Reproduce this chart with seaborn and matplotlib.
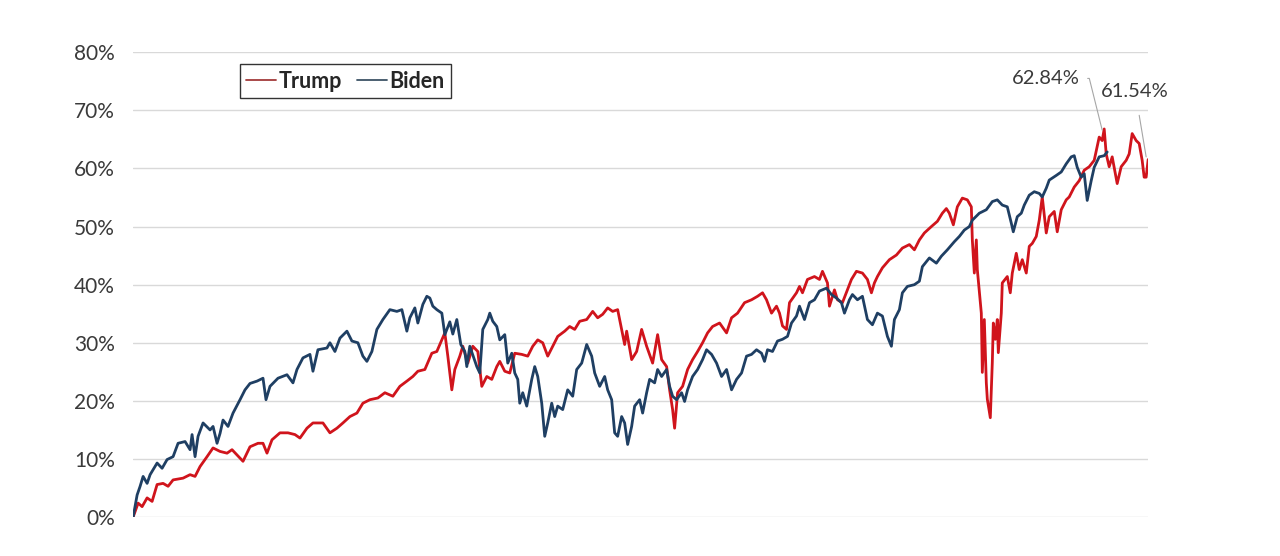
import pandas as pd
import matplotlib.pyplot as plt
import seaborn as sns
from matplotlib.lines import Line2D

# Доходност (%) по търговски дни – Тръмп
trump_day = [0, 5, 9, 14, 19, 24, 30, 35, 40, 50, 57, 62, 67, 74, 80, 87, 94, 99, 104, 110,
             117, 125, 130, 134, 139, 147, 155, 162, 167, 174, 180, 190, 197, 204, 210, 217,
             224, 230, 237, 245, 252, 260, 267, 274, 280, 285, 292, 299, 304, 309, 312, 315,
             319, 322, 327, 330, 335, 340, 345, 349, 354, 359, 364, 367, 372, 377, 382, 389,
             395, 400, 405, 410, 415, 420, 425, 432, 437, 442, 447, 454, 460, 465, 470, 475,
             480, 485, 489, 492, 494, 499, 504, 509, 514, 520, 525, 529, 534, 537, 540, 542,
             545, 550, 555, 560, 565, 570, 575, 580, 587, 594, 599, 605, 612, 619, 625, 630,
             634, 639, 644, 647, 650, 654, 657, 664, 667, 670, 675, 682, 687, 690, 695, 697,
             702, 705, 710, 715, 719, 724, 730, 735, 739, 742, 745, 750, 757, 764, 770, 777,
             782, 787, 792, 799, 805, 810, 814, 817, 821, 825, 830, 835, 839, 840, 842, 844,
             845, 849, 850, 852, 854, 855, 858, 860, 861, 863, 865, 866, 869, 870, 875, 878,
             880, 884, 887, 890, 894, 897, 900, 904, 907, 910, 914, 917, 922, 925, 929, 934,
             937, 942, 947, 952, 957, 962, 967, 970, 972, 974, 977, 980, 985, 989, 994, 997,
             1000, 1004, 1007, 1010, 1012, 1014, 1016]
trump_ret = [0.0, 2.4, 1.8, 3.3, 2.7, 5.6, 5.8, 5.3, 6.4, 6.7, 7.3, 7.0, 8.7, 10.4, 11.9, 11.3,
             11.0, 11.6, 10.7, 9.6, 12.1, 12.7, 12.7, 11.0, 13.3, 14.5, 14.5, 14.2, 13.6, 15.3,
             16.2, 16.2, 14.5, 15.3, 16.2, 17.3, 17.9, 19.6, 20.2, 20.5, 21.4, 20.8, 22.5, 23.4,
             24.2, 25.1, 25.4, 28.2, 28.5, 30.5, 31.7, 27.7, 21.9, 25.4, 27.7, 29.4, 26.5, 29.4,
             28.5, 22.5, 24.2, 23.7, 25.9, 26.8, 25.1, 24.8, 28.2, 28.0, 27.7, 29.4, 30.5, 30.0,
             27.7, 29.4, 31.1, 32.0, 32.8, 32.3, 33.7, 34.0, 35.4, 34.3, 34.9, 36.0, 35.4, 35.7,
             32.3, 29.7, 32.0, 27.1, 28.5, 32.3, 29.4, 26.5, 31.4, 27.1, 25.9, 21.9, 18.5, 15.3,
             21.4, 22.5, 25.4, 27.1, 28.5, 30.0, 31.7, 32.8, 33.4, 31.7, 34.3, 35.1, 36.9, 37.4,
             38.0, 38.6, 37.4, 35.1, 36.3, 35.1, 32.9, 32.3, 36.9, 38.6, 39.7, 38.6, 40.9, 41.4,
             40.9, 42.3, 40.3, 36.3, 39.1, 37.4, 36.9, 39.1, 40.9, 42.3, 42.0, 40.9, 38.6, 40.3,
             41.4, 42.9, 44.3, 45.1, 46.3, 46.9, 46.0, 47.7, 48.9, 50.0, 50.9, 52.3, 53.1, 52.3,
             50.3, 53.4, 54.9, 54.6, 53.4, 47.7, 42.0, 47.7, 42.6, 35.1, 24.9, 34.0, 23.1, 20.3,
             17.1, 26.6, 33.4, 30.6, 34.0, 28.3, 35.1, 40.3, 41.4, 38.6, 42.0, 45.4, 42.6, 44.3,
             42.0, 46.6, 47.1, 48.3, 51.1, 55.1, 48.9, 51.7, 52.6, 49.1, 52.9, 54.6, 55.1, 56.8,
             57.9, 59.7, 60.3, 61.4, 65.4, 64.8, 66.8, 62.5, 60.3, 62.0, 57.4, 60.3, 61.4, 62.5,
             66.0, 64.8, 64.3, 61.4, 58.5, 58.5, 61.54]

# Доходност (%) по търговски дни – Байдън
biden_day = [0, 4, 7, 10, 14, 17, 24, 29, 34, 40, 45, 52, 57, 59, 62, 65, 70, 77, 80, 84, 87,
             90, 95, 100, 107, 112, 117, 124, 130, 133, 137, 145, 154, 160, 164, 170, 177, 180,
             185, 194, 197, 202, 207, 214, 219, 225, 230, 234, 239, 244, 250, 257, 264, 269,
             274, 277, 282, 285, 290, 294, 297, 300, 304, 309, 312, 317, 320, 324, 328, 332,
             334, 337, 344, 347, 350, 355, 357, 360, 364, 367, 372, 375, 379, 382, 385, 387,
             390, 394, 399, 402, 405, 409, 412, 415, 419, 422, 425, 430, 435, 440, 444, 449,
             454, 459, 462, 467, 472, 475, 479, 482, 485, 489, 492, 495, 499, 502, 507, 510,
             514, 517, 522, 525, 529, 534, 537, 540, 544, 549, 552, 555, 560, 565, 570, 574,
             579, 584, 589, 594, 599, 604, 609, 614, 619, 624, 629, 632, 635, 640, 645, 650,
             655, 659, 664, 667, 672, 677, 682, 687, 694, 699, 704, 709, 712, 717, 720, 725,
             730, 735, 740, 745, 750, 755, 759, 762, 767, 770, 775, 782, 787, 790, 797, 804,
             809, 815, 822, 827, 832, 837, 840, 847, 854, 860, 865, 870, 875, 879, 881, 885,
             889, 892, 897, 902, 907, 910, 914, 917, 924, 929, 934, 939, 942, 945, 949, 952,
             955, 959, 962, 967, 972, 975]
biden_ret = [0.0, 3.8, 5.3, 7.0, 5.8, 7.3, 9.3, 8.4, 9.9, 10.4, 12.7, 13.0, 11.6, 14.2, 10.4,
             13.9, 16.2, 15.0, 15.6, 12.7, 14.4, 16.7, 15.6, 17.9, 20.2, 21.9, 23.0, 23.4, 23.9,
             20.2, 22.5, 23.9, 24.5, 23.1, 25.4, 27.4, 28.0, 25.1, 28.8, 29.1, 30.0, 28.5, 30.8,
             32.0, 30.3, 30.0, 27.7, 26.8, 28.5, 32.3, 34.0, 35.7, 35.4, 35.7, 32.0, 34.3, 36.0,
             33.4, 36.6, 38.0, 37.7, 36.3, 35.7, 35.1, 31.4, 33.6, 31.5, 34.0, 29.7, 28.5, 25.9,
             29.4, 25.9, 24.8, 32.3, 34.0, 35.1, 33.7, 32.8, 30.5, 31.4, 26.5, 28.2, 24.8, 23.7,
             19.6, 21.4, 19.1, 23.7, 25.9, 24.2, 19.6, 13.9, 16.2, 19.6, 17.3, 19.1, 18.5, 21.9,
             20.8, 25.4, 26.5, 29.7, 27.7, 24.8, 22.5, 24.2, 21.9, 20.2, 14.5, 13.9, 17.3, 16.2,
             12.5, 15.6, 19.1, 20.2, 17.9, 21.4, 23.7, 23.1, 25.4, 24.2, 25.4, 22.5, 20.8, 20.2,
             21.4, 19.9, 21.9, 24.2, 25.4, 27.1, 28.8, 28.0, 26.5, 24.2, 25.4, 21.9, 23.7, 24.8,
             27.7, 28.0, 28.8, 28.2, 26.8, 28.8, 28.5, 30.3, 30.6, 31.1, 33.4, 34.6, 36.3, 34.0,
             36.9, 37.4, 38.9, 39.4, 38.3, 37.7, 36.9, 35.1, 37.4, 38.3, 37.4, 38.0, 34.0, 33.1,
             35.1, 34.6, 31.1, 29.4, 34.0, 35.7, 38.6, 39.7, 40.0, 40.6, 43.1, 44.6, 43.7, 44.9,
             46.0, 47.4, 48.3, 49.4, 50.0, 51.1, 52.3, 52.9, 54.3, 54.6, 53.7, 53.4, 50.6, 49.1,
             51.7, 52.3, 53.7, 55.4, 56.0, 55.7, 55.1, 56.6, 58.0, 58.8, 59.4, 60.8, 62.0, 62.2,
             60.2, 58.5, 59.1, 54.5, 57.9, 60.2, 62.0, 62.2, 62.84]

y_ticks = [0, 10, 20, 30, 40, 50, 60, 70, 80]

df = pd.concat([
    pd.DataFrame({'day': trump_day, 'ret': trump_ret, 'who': 'Trump'}),
    pd.DataFrame({'day': biden_day, 'ret': biden_ret, 'who': 'Biden'}),
])

sns.set_theme(style="white")
plt.rcParams['font.family'] = ['Lato', 'DejaVu Sans']

fig = plt.figure(figsize=(12.8, 5.56), dpi=100)
ax = fig.add_axes([0.104, 0.070, 0.793, 0.836])

colors = {'Trump': '#d0141c', 'Biden': '#1f3f63'}
sns.lineplot(data=df, x='day', y='ret', hue='who', palette=colors, linewidth=2.0,
             ax=ax, legend=False)

ax.set_xlim(0, trump_day[-1])
ax.set_ylim(0, 80)
ax.set_yticks(y_ticks)
ax.set_yticklabels([f"{t}%" for t in y_ticks], fontsize=15, color='#3a3a3a')
ax.set_xticks([])
ax.set_xlabel('')
ax.set_ylabel('')
ax.tick_params(axis='y', length=0, pad=13)
ax.grid(axis='y', color='#d9d9d9', linewidth=1)
ax.set_axisbelow(True)
for s in ax.spines.values():
    s.set_visible(False)

# легенда
handles = [Line2D([], [], color='#a33a3a', lw=1.3), Line2D([], [], color='#3d5366', lw=1.3)]
leg = ax.legend(handles, ['Trump', 'Biden'], loc='upper left', bbox_to_anchor=(0.105, 0.974),
                borderaxespad=0, ncol=2, frameon=True, fancybox=False, handlelength=1.4,
                handletextpad=0.1, columnspacing=0.7, borderpad=0.3,
                prop={'weight': 'bold', 'size': 15.5})
leg.get_frame().set_edgecolor('black')
leg.get_frame().set_linewidth(1)

# етикети на крайните стойности
ax.annotate(f"{biden_ret[-1]:.2f}%", xy=(970, 66.6), xytext=(948, 75.5),
            fontsize=14.5, color='#3a3a3a', ha='right', va='center',
            arrowprops=dict(arrowstyle='-', color='#a6a6a6', lw=0.8, shrinkA=3, shrinkB=0,
                            connectionstyle='angle,angleA=0,angleB=104,rad=0'))
ax.annotate(f"{trump_ret[-1]:.2f}%", xy=(trump_day[-1] - 2, 62.0), xytext=(1003, 73.3),
            fontsize=14.5, color='#3a3a3a', ha='center', va='center',
            arrowprops=dict(arrowstyle='-', color='#a6a6a6', lw=0.8, shrinkA=9, shrinkB=0))

fig.savefig('out.png', dpi=100, facecolor='white')
